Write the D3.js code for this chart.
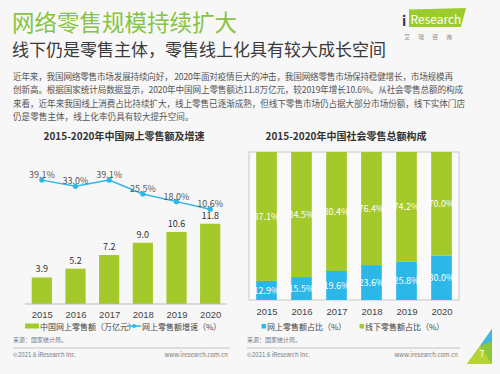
<!DOCTYPE html>
<html>
<head>
<meta charset="utf-8">
<script src="https://cdn.jsdelivr.net/npm/d3@7"></script>
<style>
  body { margin: 0; background: #f6f6f6; }
  svg { display: block; font-family: "Noto Sans CJK SC", "Noto Sans", sans-serif; }
</style>
</head>
<body>
<div id="slide"></div>
<script>
const years = ['2015', '2016', '2017', '2018', '2019', '2020'];
const onlineSales = [3.9, 5.2, 7.2, 9.0, 10.6, 11.8];      // 万亿元
const growthRate = [39.1, 33.0, 39.1, 25.5, 18.0, 10.6];    // %
const onlineShare = [12.9, 15.5, 19.6, 23.6, 25.8, 30.0];   // %
const offlineShare = [87.1, 84.5, 80.4, 76.4, 74.2, 70.0];  // %

const paragraph = [
  '近年来，我国网络零售市场发展持续向好， 2020年面对疫情巨大的冲击，我国网络零售市场保持稳健增长，市场规模再',
  '创新高。根据国家统计局数据显示，2020年中国网上零售额达11.8万亿元，较2019年增长10.6%。从社会零售总额的构成',
  '来看，近年来我国线上消费占比持续扩大，线上零售已逐渐成熟，但线下零售市场仍占据大部分市场份额，线下实体门店',
  '仍是零售主体，线上化率仍具有较大提升空间。'
];

const green = '#a3c92b';
const blue = '#2bb8e8';
const width = 500, height = 374;

const svg = d3.select('#slide').append('svg')
    .attr('width', width)
    .attr('height', height);

svg.append('rect').attr('width', width).attr('height', height).attr('fill', '#f7f7f7');

// headings
svg.append('text').attr('x', 12).attr('y', 31)
    .attr('font-size', 22.5).attr('fill', '#86c443')
    .text('网络零售规模持续扩大');
svg.append('text').attr('x', 12).attr('y', 56)
    .attr('font-size', 17).attr('fill', '#3a3a3a')
    .text('线下仍是零售主体，零售线上化具有较大成长空间');

svg.selectAll('.para').data(paragraph).enter()
  .append('text')
    .attr('class', 'para')
    .attr('x', 13)
    .attr('y', (d, i) => 80 + i * 13.3)
    .attr('font-size', 8.6)
    .attr('fill', '#555')
    .attr('textLength', (d, i) => i < 3 ? [440, 450, 452][i] : null)
    .attr('lengthAdjust', 'spacing')
    .text(d => d);

// logo
const logo = svg.append('g');
logo.append('polygon')
    .attr('points', '409,9.5 466,8 461,27 409,27')
    .attr('fill', '#9ccb2e');
logo.append('text').attr('x', 402).attr('y', 26)
    .attr('font-size', 14).attr('font-weight', 'bold').attr('fill', '#2a3a4a')
    .text('i');
logo.append('text').attr('x', 410.5).attr('y', 24)
    .attr('font-size', 12).attr('fill', '#fff')
    .text('Research');
logo.append('text').attr('x', 404).attr('y', 39)
    .attr('font-size', 6).attr('fill', '#888').attr('letter-spacing', 8)
    .text('艾瑞咨询');

// ---------- left chart ----------
const xL = d3.scalePoint().domain(years).range([25, 227]).padding(0.5);
const barW = xL.step() * 0.6;
const yBar = d3.scaleLinear().domain([0, 14]).range([304, 304 - 14 * 6.8]);
const yLine = d3.scaleLinear().domain([0, 50]).range([220, 169]);

svg.append('text').attr('x', 124).attr('y', 140)
    .attr('text-anchor', 'middle').attr('font-size', 10).attr('font-weight', 'bold').attr('fill', '#333')
    .text('2015-2020年中国网上零售额及增速');

svg.selectAll('.bar').data(onlineSales).enter()
  .append('rect')
    .attr('class', 'bar')
    .attr('x', (d, i) => xL(years[i]) - barW / 2)
    .attr('y', d => yBar(d))
    .attr('width', barW)
    .attr('height', d => yBar(0) - yBar(d))
    .attr('fill', green);

svg.selectAll('.barlab').data(onlineSales).enter()
  .append('text')
    .attr('class', 'barlab')
    .attr('x', (d, i) => xL(years[i]))
    .attr('y', d => yBar(d) - 5)
    .attr('text-anchor', 'middle').attr('font-size', 9).attr('fill', '#333')
    .text(d => d.toFixed(1));

const axisL = svg.append('g')
    .attr('transform', 'translate(0,' + yBar(0) + ')')
    .call(d3.axisBottom(xL).tickSize(0).tickPadding(7));
axisL.select('.domain').attr('stroke', '#bbb').attr('d', 'M25,0H227');
axisL.selectAll('text').attr('font-size', 9.5).attr('fill', '#444').attr('font-family', 'inherit');

const line = d3.line()
    .x((d, i) => xL(years[i]))
    .y(d => yLine(d));

svg.append('path').datum(growthRate)
    .attr('d', line)
    .attr('fill', 'none').attr('stroke', blue).attr('stroke-width', 1.5);

svg.selectAll('.dot').data(growthRate).enter()
  .append('circle')
    .attr('class', 'dot')
    .attr('cx', (d, i) => xL(years[i]))
    .attr('cy', d => yLine(d))
    .attr('r', 2.6)
    .attr('fill', blue);

svg.selectAll('.linelab').data(growthRate).enter()
  .append('text')
    .attr('class', 'linelab')
    .attr('x', (d, i) => xL(years[i]))
    .attr('y', d => yLine(d) - 2)
    .attr('text-anchor', 'middle').attr('font-size', 9).attr('fill', '#555')
    .text(d => d.toFixed(1) + '%');

// left legend
svg.append('rect').attr('x', 25).attr('y', 323.5).attr('width', 14).attr('height', 5).attr('fill', green);
svg.append('text').attr('x', 40).attr('y', 329.5).attr('font-size', 8).attr('fill', '#444')
    .text('中国网上零售额（万亿元）');
svg.append('line').attr('x1', 127).attr('x2', 141).attr('y1', 326).attr('y2', 326)
    .attr('stroke', blue).attr('stroke-width', 1.5);
svg.append('circle').attr('cx', 134).attr('cy', 326).attr('r', 2).attr('fill', blue);
svg.append('text').attr('x', 142).attr('y', 329.5).attr('font-size', 8).attr('fill', '#444')
    .text('网上零售额增速（%）');

// ---------- right chart ----------
const xR = d3.scalePoint().domain(years).range([249, 459]).padding(0.5);
const barWR = xR.step() * 0.59;
const yR = d3.scaleLinear().domain([0, 100]).range([300, 152]);

svg.append('text').attr('x', 346).attr('y', 140)
    .attr('text-anchor', 'middle').attr('font-size', 10).attr('font-weight', 'bold').attr('fill', '#333')
    .text('2015-2020年中国社会零售总额构成');

svg.append('rect')
    .attr('x', 249).attr('y', yR(100))
    .attr('width', 210).attr('height', yR(0) - yR(100))
    .attr('fill', '#fafafa').attr('stroke', '#c8c8c8').attr('stroke-width', 1);

const stack = years.map((y, i) => ({ year: y, online: onlineShare[i], offline: offlineShare[i] }));

svg.selectAll('.onbar').data(stack).enter()
  .append('rect')
    .attr('x', d => xR(d.year) - barWR / 2)
    .attr('y', d => yR(d.online))
    .attr('width', barWR)
    .attr('height', d => yR(0) - yR(d.online))
    .attr('fill', blue);

svg.selectAll('.offbar').data(stack).enter()
  .append('rect')
    .attr('x', d => xR(d.year) - barWR / 2)
    .attr('y', d => yR(d.online + d.offline))
    .attr('width', barWR)
    .attr('height', d => yR(d.online) - yR(d.online + d.offline))
    .attr('fill', green);

svg.selectAll('.onlab').data(stack).enter()
  .append('text')
    .attr('x', d => xR(d.year))
    .attr('y', d => yR(d.online / 2) + 3.3)
    .attr('text-anchor', 'middle').attr('font-size', 9).attr('fill', '#fff')
    .text(d => d.online.toFixed(1) + '%');

svg.selectAll('.offlab').data(stack).enter()
  .append('text')
    .attr('x', d => xR(d.year))
    .attr('y', d => yR(d.online + d.offline / 2) + 3.3)
    .attr('text-anchor', 'middle').attr('font-size', 9).attr('fill', '#fff')
    .text(d => d.offline.toFixed(1) + '%');

const axisR = svg.append('g')
    .attr('transform', 'translate(0,' + yR(0) + ')')
    .call(d3.axisBottom(xR).tickSize(0).tickPadding(8));
axisR.select('.domain').remove();
axisR.selectAll('text').attr('font-size', 9.5).attr('fill', '#444').attr('font-family', 'inherit');

// right legend
svg.append('rect').attr('x', 261.5).attr('y', 324).attr('width', 4.5).attr('height', 4.5).attr('fill', blue);
svg.append('text').attr('x', 267).attr('y', 329.5).attr('font-size', 8).attr('fill', '#444')
    .text('网上零售额占比（%）');
svg.append('rect').attr('x', 359.5).attr('y', 324).attr('width', 4.5).attr('height', 4.5).attr('fill', green);
svg.append('text').attr('x', 365).attr('y', 329.5).attr('font-size', 8).attr('fill', '#444')
    .text('线下零售额占比（%）');

// sources and footers
[[13, 230], [247, 460]].forEach(([x0, x1]) => {
  svg.append('text').attr('x', x0).attr('y', 342).attr('font-size', 6).attr('fill', '#777')
      .text('来源：国家统计局。');
  svg.append('line').attr('x1', x0).attr('x2', x1).attr('y1', 348).attr('y2', 348)
      .attr('stroke', '#c4c4c4').attr('stroke-width', 1);
  svg.append('text').attr('x', x0).attr('y', 356.5).attr('font-size', 6).attr('fill', '#777')
      .text('©2021.6 iResearch Inc.');
  svg.append('text').attr('x', x1 - 2).attr('y', 356.5).attr('font-size', 6).attr('fill', '#777')
      .attr('text-anchor', 'end')
      .text('www.iresearch.com.cn');
});

// page corner
const corner = svg.append('g');
corner.append('polygon').attr('points', '467,364 492,329 492,364').attr('fill', '#8cc63f');
corner.append('polygon').attr('points', '492,329 480,346 492,341').attr('fill', '#41b6e6');
corner.append('polygon').attr('points', '467,364 480,346 492,364').attr('fill', '#b5d334');
corner.append('text').attr('x', 482).attr('y', 357).attr('font-size', 9).attr('fill', '#fff')
    .attr('text-anchor', 'middle').text('7');
</script>
</body>
</html>
